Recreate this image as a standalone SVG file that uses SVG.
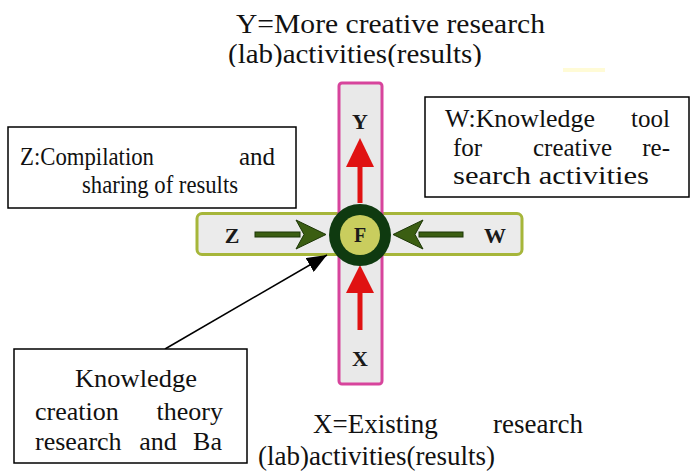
<svg xmlns="http://www.w3.org/2000/svg" width="697" height="471" viewBox="0 0 697 471">
<style>
.t{font-family:"Liberation Serif","Times New Roman",serif;font-size:26px;fill:#111}
.tw{font-family:"Liberation Serif","Times New Roman",serif;font-size:25px;fill:#111}
.tz{font-family:"Liberation Serif","Times New Roman",serif;font-size:25px;fill:#111}
.tt{font-family:"Liberation Serif","Times New Roman",serif;font-size:27px;fill:#111}
.lbl{font-family:"Liberation Serif","Times New Roman",serif;font-size:22px;font-weight:bold;fill:#1a1a1a;text-anchor:middle}
.box{fill:#fff;stroke:#000;stroke-width:1.5}
.red{fill:#e01212}
.grn{fill:#3b5e12;stroke:#1c3606;stroke-width:1}
</style>
<defs>
<marker id="ah" markerWidth="20" markerHeight="16" refX="20" refY="8" orient="auto" markerUnits="userSpaceOnUse"><path d="M0,0 L20,8 L0,16 Z" fill="#000"/></marker>
<clipPath id="cTop"><rect x="0" y="0" width="697" height="67"/></clipPath>
<clipPath id="cKb"><rect x="14" y="349" width="233" height="101"/></clipPath>
</defs>
<rect width="697" height="471" fill="#fff"/>
<rect x="563" y="68" width="42" height="4" fill="#fffbd6"/>

<g id="title-y">
<text class="tt" x="236" y="33" textLength="309" lengthAdjust="spacingAndGlyphs">Y=More creative research</text>
<text class="tt" x="228" y="63" textLength="254" lengthAdjust="spacingAndGlyphs" clip-path="url(#cTop)">(lab)activities(results)</text>
</g>

<g id="cross">
<rect x="197" y="213.5" width="325" height="41" rx="5" fill="#ebebeb" stroke="#a6b63a" stroke-width="3"/>
<rect x="339" y="83" width="43" height="301" rx="3" fill="#e9e9e9" stroke="#d7449c" stroke-width="3"/>
</g>

<g id="node-y"><text class="lbl" x="360" y="129">Y</text></g>
<g id="node-x"><text class="lbl" x="360" y="366">X</text></g>
<g id="node-z"><text class="lbl" x="232" y="243">Z</text></g>
<g id="node-w"><text class="lbl" x="495" y="243">W</text></g>

<g id="connectors">
<rect class="red" x="357.5" y="162" width="5" height="41"/>
<path class="red" d="M360,138 L346,167 L374,167 Z"/>
<rect class="red" x="357.5" y="288" width="5" height="42"/>
<path class="red" d="M360,265 L346,293 L374,293 Z"/>
<rect class="grn" x="255" y="232" width="45" height="5"/>
<path class="grn" d="M326,234.5 L296,220 L304,234.5 L296,249 Z"/>
<rect class="grn" x="419" y="232" width="44" height="5"/>
<path class="grn" d="M393,234.5 L423,220 L415,234.5 L423,249 Z"/>
<line x1="165" y1="349" x2="327" y2="255" stroke="#000" stroke-width="1.5" marker-end="url(#ah)"/>
</g>

<g id="node-f">
<circle cx="360" cy="235" r="31" fill="#0f3a10"/>
<circle cx="360" cy="235" r="20" fill="#c9cd5e"/>
<text class="lbl" x="360" y="242" style="font-size:20px">F</text>
</g>

<g id="box-z">
<rect class="box" x="8" y="127" width="288" height="81"/>
<text class="tz" x="20" y="165" textLength="134" lengthAdjust="spacingAndGlyphs">Z:Compilation</text>
<text class="tz" x="275" y="165" text-anchor="end">and</text>
<text class="tz" x="82" y="193" textLength="156" lengthAdjust="spacingAndGlyphs">sharing of results</text>
</g>

<g id="box-w">
<rect class="box" x="425" y="97" width="264" height="100"/>
<text class="tw" x="445" y="127" textLength="150" lengthAdjust="spacingAndGlyphs">W:Knowledge</text>
<text class="tw" x="670" y="127" text-anchor="end">tool</text>
<text class="tw" x="453" y="155.5">for</text>
<text class="tw" x="533" y="155.5">creative</text>
<text class="tw" x="670" y="155.5" text-anchor="end">re-</text>
<text class="tw" x="453" y="184" textLength="196" lengthAdjust="spacingAndGlyphs">search activities</text>
</g>

<g id="box-k">
<rect class="box" x="14" y="349" width="233" height="114"/>
<text class="t" x="136" y="387" text-anchor="middle" textLength="122" lengthAdjust="spacingAndGlyphs">Knowledge</text>
<text class="t" x="35" y="420">creation</text>
<text class="t" x="223" y="420" text-anchor="end">theory</text>
<text class="t" x="35" y="450" clip-path="url(#cKb)">research</text>
<text class="t" x="158" y="450" text-anchor="middle" clip-path="url(#cKb)">and</text>
<text class="t" x="222" y="450" text-anchor="end" clip-path="url(#cKb)">Ba</text>
</g>

<g id="title-x">
<text class="tt" x="313" y="433">X=Existing</text>
<text class="tt" x="583" y="433" text-anchor="end">research</text>
<text class="tt" x="258" y="465">(lab)activities(results)</text>
</g>
</svg>
